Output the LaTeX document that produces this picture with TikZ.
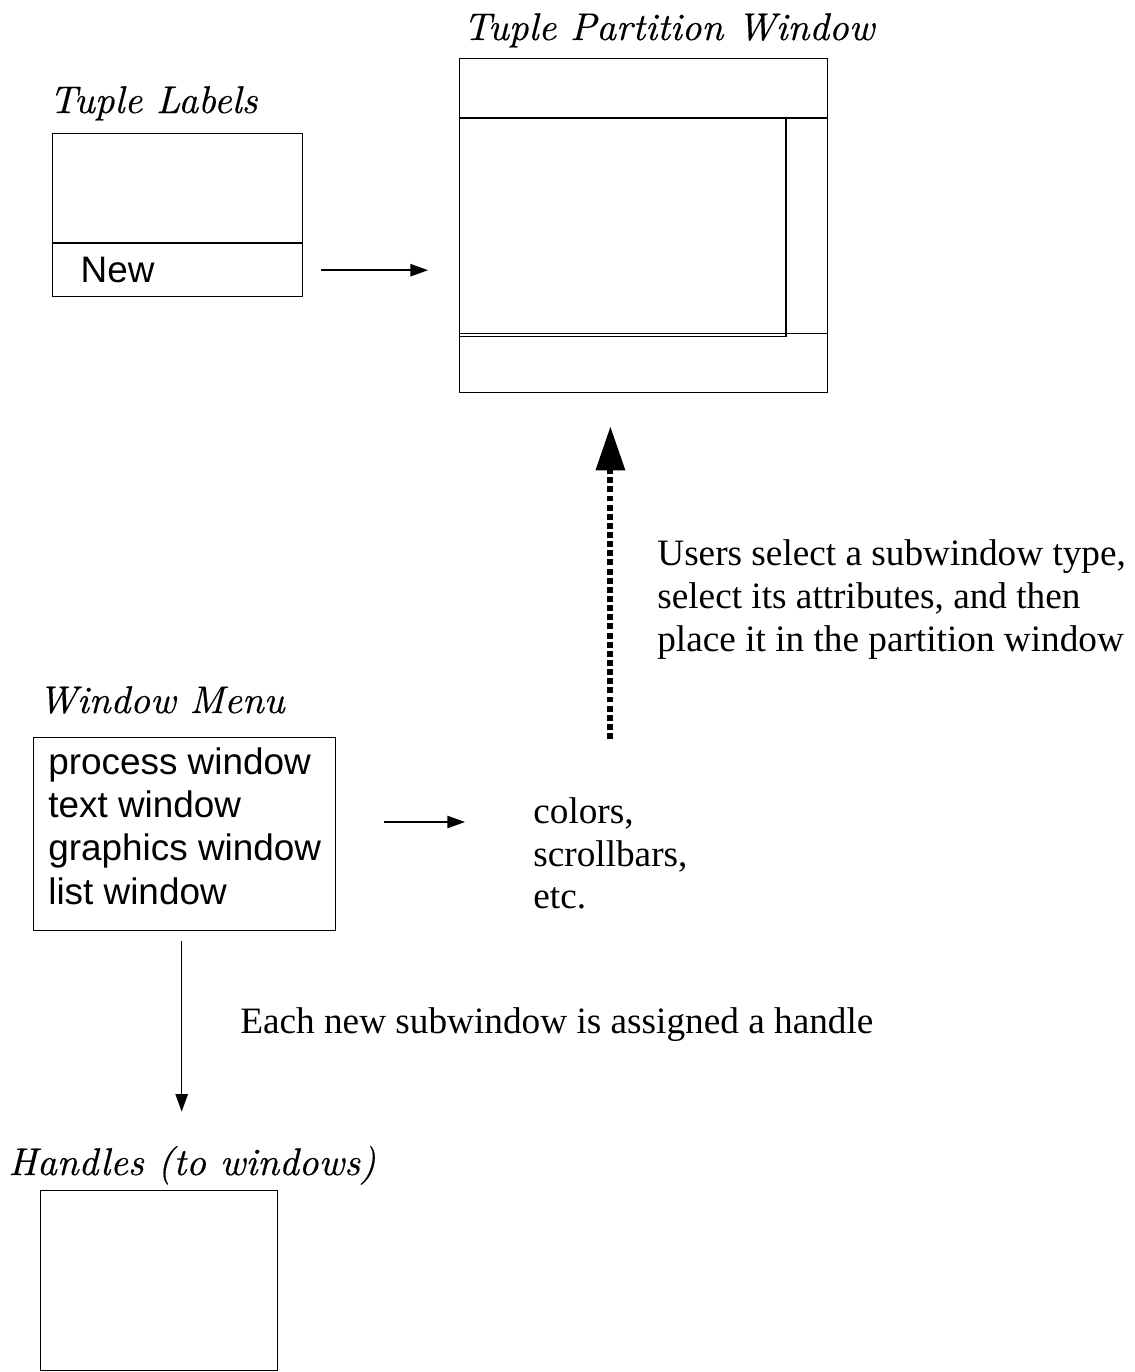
\documentclass[tikz,border=0pt]{standalone}
\usepackage{fontspec}
\newfontfamily\sansf{Liberation Sans}
\newfontfamily\serf{Liberation Serif}
\newfontfamily\titlef{lmroman10-italic.otf}[FakeBold=0.4]
\usetikzlibrary{arrows.meta,positioning}

\tikzset{
  box/.style={draw, line width=0.8pt, inner sep=0pt},
  title/.style={anchor=base west, inner sep=0pt, font=\fontsize{22}{25}\selectfont\titlef},
  menutext/.style={font=\fontsize{21}{24.7}\selectfont\sansf},
  remark/.style={anchor=base west, inner sep=0pt, align=left, font=\fontsize{21.2}{24.4}\selectfont\serf},
  arr/.style={line width=0.8pt, -{Triangle[length=10pt,width=7pt]}},
  bigarr/.style={line width=3.4pt, dash pattern=on 3.4pt off 1.8pt, -{Triangle[length=25pt,width=16pt]}}
}

\begin{document}
\begin{tikzpicture}[x=0.02cm, y=-0.02cm]
  \useasboundingbox (0,0) rectangle (1135,1372);

  % tuple labels
  \node[title] (lbltitle) at (49,113) {Tuple Labels};
  \node[box, anchor=north west, minimum height=1.06cm, text width=3.88cm,
        inner xsep=0.56cm, align=left, menutext] (new) at (52,243) {New};
  \node[box, anchor=south west, minimum width=5cm, minimum height=2.18cm] (lbl) at (new.north west) {};

  % partition window
  \node[title] (parttitle) at (463,40) {Tuple Partition Window};
  \node[box, anchor=north west, minimum width=7.36cm, minimum height=6.68cm] (part) at (459,58) {};
  \draw[line width=0.8pt] (459,118) -- (827,118);
  \draw[line width=0.8pt] (786,118) -- (786,336.5);
  \draw[line width=0.8pt] (459,333.5) -- (827,333.5);
  \draw[line width=0.8pt] (459,336.5) -- (786,336.5);

  \draw[arr, shorten <=0.36cm, shorten >=0.62cm] (new.east) -- (new.east -| part.west);

  % window menu
  \node[title] (menutitle) at (38,713) {Window Menu};
  \node[box, anchor=north west, minimum width=6.04cm, minimum height=3.86cm] (menu) at (33,737) {};
  \node[menutext, align=left, anchor=north west, inner sep=0pt] (items) at (48,747)
        {process window\\text window\\graphics window\\list window};

  \node[remark, anchor=north west] (attr) at (533,797) {colors,\\scrollbars,\\etc.};
  \coordinate (attrin) at (465,822);
  \draw[arr, shorten <=0.96cm] (menu.east |- attrin) -- (attrin);

  \draw[bigarr, shorten <=1.16cm, shorten >=0.66cm] (attr.north) -- (attr.north |- part.south);
  \node[remark] (users) at (657,651)
        {Users select a subwindow type,\\select its attributes, and then\\place it in the partition window};

  % handles
  \node[title] (hndtitle) at (8,1175) {Handles (to windows)};
  \node[box, anchor=north west, minimum width=4.74cm, minimum height=3.6cm] (hnd) at (40,1190) {};
  \draw[arr, shorten <=0.2cm, shorten >=0.68cm] ([xshift=-0.06cm]menu.south) -- ([xshift=-0.06cm]menu.south |- hndtitle.north);
  \node[remark] (assign) at (240,1033) {Each new subwindow is assigned a handle};
\end{tikzpicture}
\end{document}
